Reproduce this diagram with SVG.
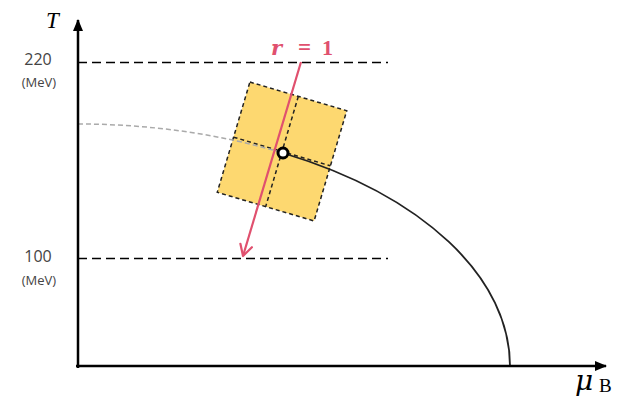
<svg xmlns="http://www.w3.org/2000/svg" width="621" height="404" viewBox="0 0 621 404">
<style>
.ref{stroke:#000;stroke-width:1.3;stroke-dasharray:9 5;fill:none}
.lab{font-family:"Open Sans","Liberation Sans",sans-serif;fill:#444;text-anchor:middle}
.box{fill:#FDD870;stroke:#222;stroke-width:1.5;stroke-dasharray:4 3}
.div{stroke:#222;stroke-width:1.5;stroke-dasharray:4 3;fill:none}
.axis{stroke:#000;stroke-width:2.5;fill:none}
.red{font-family:"Liberation Serif","DejaVu Serif",serif;font-weight:bold;fill:#E0506E}
</style>
<defs>
<marker id="ah" markerWidth="12" markerHeight="10" refX="11" refY="5" orient="auto" markerUnits="userSpaceOnUse">
<path d="M0,0 L12,5 L0,10 Z" fill="#000"/>
</marker>
<marker id="rh" markerWidth="16" markerHeight="16" refX="13" refY="8" orient="auto" markerUnits="userSpaceOnUse">
<path d="M2,2 L13,8 L2,14" fill="none" stroke="#E0506E" stroke-width="2.2" stroke-linecap="round" stroke-linejoin="round"/>
</marker>
</defs>
<g id="reflines">
<line class="ref" x1="78" y1="62.5" x2="388" y2="62.5"/>
<line class="ref" x1="78" y1="258.5" x2="388" y2="258.5"/>
</g>
<g id="labels">
<text class="lab" x="38" y="65" font-size="16">220</text>
<text class="lab" x="39" y="87" font-size="13">(MeV)</text>
<text class="lab" x="38" y="262" font-size="16">100</text>
<text class="lab" x="39" y="285" font-size="13">(MeV)</text>
<text x="46" y="28" font-family="'Liberation Serif',serif" font-style="italic" font-size="23">T</text>
<text x="575" y="390" font-family="'DejaVu Serif',serif" font-style="italic" font-size="28">μ</text>
<text x="599" y="392" font-family="'Liberation Serif',serif" font-size="19">B</text>
</g>
<g id="box" transform="translate(282,151.5) rotate(16.5)">
<rect class="box" x="-50.5" y="-57.5" width="101" height="115"/>
<line class="div" x1="0" y1="-57.5" x2="0" y2="57.5"/>
<line class="div" x1="-50.5" y1="0" x2="50.5" y2="0"/>
</g>
<g id="connectors">
<path d="M78,124 A432,242 0 0 1 283,153" fill="none" stroke="#aaa" stroke-width="1.5" stroke-dasharray="5 3"/>
<path d="M283,153 A432,242 0 0 1 510,366" fill="none" stroke="#222" stroke-width="1.8"/>
<line class="axis" x1="78" y1="368" x2="78" y2="20" marker-end="url(#ah)"/>
<line class="axis" x1="76" y1="366" x2="606" y2="366" marker-end="url(#ah)"/>
<line x1="301" y1="62" x2="243" y2="256" stroke="#E0506E" stroke-width="2.2" marker-end="url(#rh)"/>
</g>
<g id="critical">
<circle cx="283" cy="153" r="5" fill="#fff" stroke="#000" stroke-width="3"/>
</g>
<g id="rlabel">
<text class="red" x="271" y="55" style="font-family:'DejaVu Serif',serif;font-style:italic;font-size:21px">r</text>
<text class="red" x="298" y="55" style="font-size:23px">=</text>
<text class="red" x="322" y="55" style="font-size:22px">1</text>
</g>
</svg>
